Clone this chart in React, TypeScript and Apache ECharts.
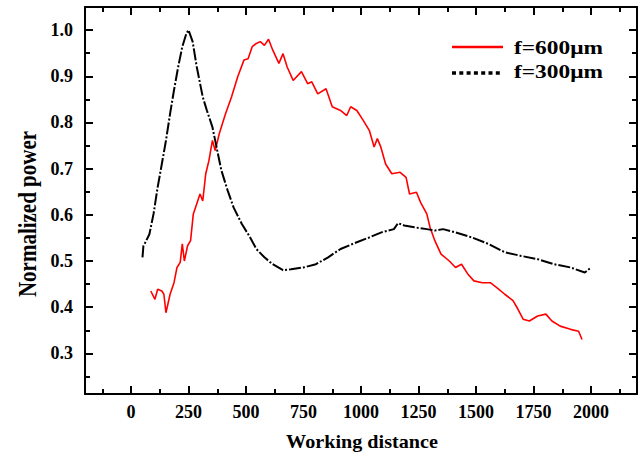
import React, { useEffect, useRef } from "react";
import * as echarts from "echarts";

const redX = [86, 104, 116, 134, 143, 152, 170, 187, 200, 214, 223, 232, 246, 259, 271, 286, 300, 312, 325, 339, 354, 366, 384, 411, 437, 464, 491, 509, 527, 545, 562, 580, 598, 616, 643, 661, 679, 705, 741, 768, 786, 812, 848, 875, 911, 938, 955, 982, 1009, 1036, 1057, 1071, 1086, 1107, 1134, 1170, 1196, 1211, 1241, 1259, 1286, 1300, 1321, 1348, 1384, 1411, 1437, 1464, 1491, 1527, 1562, 1589, 1625, 1661, 1682, 1705, 1732, 1768, 1804, 1830, 1866, 1911, 1946, 1961];
const redY = [0.435, 0.417, 0.439, 0.435, 0.428, 0.388, 0.428, 0.453, 0.486, 0.497, 0.537, 0.5, 0.533, 0.544, 0.602, 0.624, 0.645, 0.63, 0.689, 0.718, 0.761, 0.739, 0.776, 0.819, 0.855, 0.899, 0.935, 0.938, 0.964, 0.971, 0.975, 0.967, 0.98, 0.957, 0.928, 0.949, 0.92, 0.891, 0.91, 0.884, 0.888, 0.862, 0.873, 0.834, 0.826, 0.815, 0.834, 0.826, 0.805, 0.783, 0.747, 0.765, 0.747, 0.71, 0.689, 0.692, 0.681, 0.645, 0.649, 0.627, 0.602, 0.573, 0.544, 0.515, 0.5, 0.486, 0.493, 0.472, 0.457, 0.453, 0.453, 0.443, 0.428, 0.414, 0.396, 0.374, 0.37, 0.381, 0.385, 0.37, 0.359, 0.352, 0.348, 0.33];

const blackX = [50, 54, 62, 80, 98, 116, 134, 152, 170, 187, 205, 223, 241, 250, 268, 286, 312, 330, 354, 375, 393, 420, 446, 482, 518, 545, 580, 616, 661, 696, 750, 804, 857, 911, 964, 1036, 1089, 1143, 1161, 1188, 1232, 1286, 1321, 1357, 1411, 1482, 1554, 1625, 1696, 1768, 1839, 1911, 1973, 2000];
const blackY = [0.508, 0.533, 0.54, 0.558, 0.602, 0.66, 0.71, 0.761, 0.819, 0.87, 0.92, 0.964, 0.993, 1.0, 0.975, 0.92, 0.855, 0.826, 0.79, 0.739, 0.696, 0.653, 0.616, 0.58, 0.551, 0.526, 0.508, 0.493, 0.48, 0.482, 0.486, 0.493, 0.508, 0.526, 0.537, 0.551, 0.562, 0.569, 0.582, 0.577, 0.573, 0.569, 0.566, 0.569, 0.562, 0.551, 0.537, 0.519, 0.511, 0.504, 0.493, 0.486, 0.475, 0.486];

const xMajor = [0, 250, 500, 750, 1000, 1250, 1500, 1750, 2000];
const xMinor = [-125, 125, 375, 625, 875, 1125, 1375, 1625, 1875, 2125];
const yMajor = [0.3, 0.4, 0.5, 0.6, 0.7, 0.8, 0.9, 1.0];
const yMinor = [0.25, 0.35, 0.45, 0.55, 0.65, 0.75, 0.85, 0.95];

const seriesNames = ["f=600\u03bcm", "f=300\u03bcm"];
const axisTitles = ["Working distance", "Normalized power"];

const FONT = '"Liberation Serif", "Times New Roman", serif';

export default function App() {
  const ref = useRef<HTMLDivElement>(null);
  useEffect(() => {
    if (!ref.current) return;
    const chart = echarts.init(ref.current, null, { renderer: "svg" });
    const lineSt = { color: "#000", width: 2 };
    const labelSt = {
      color: "#000",
      fontFamily: FONT,
      fontWeight: "bold",
      fontSize: 18,
    };
    const mkX = (pos: string, major: boolean, labels: boolean, line: boolean) => ({
      type: "value",
      position: pos,
      min: -200,
      max: 2200,
      axisLine: { show: line, onZero: false, lineStyle: lineSt },
      axisTick: {
        show: true,
        inside: true,
        length: major ? 8 : 5,
        customValues: major ? xMajor : xMinor,
        lineStyle: { color: "#000", width: 2 },
      },
      axisLabel: {
        show: labels,
        customValues: xMajor,
        margin: 9,
        ...labelSt,
        formatter: (v: number) => String(v),
      },
      splitLine: { show: false },
    });
    const mkY = (pos: string, major: boolean, labels: boolean, line: boolean) => ({
      type: "value",
      position: pos,
      min: 0.212,
      max: 1.05,
      axisLine: { show: line, onZero: false, lineStyle: lineSt },
      axisTick: {
        show: true,
        inside: true,
        length: major ? 8 : 5,
        customValues: major ? yMajor : yMinor,
        lineStyle: { color: "#000", width: 2 },
      },
      axisLabel: {
        show: labels,
        customValues: yMajor,
        margin: 12,
        ...labelSt,
        formatter: (v: number) => v.toFixed(1),
      },
      splitLine: { show: false },
    });
    const txt = (text: string, size: number) => ({
      text,
      font: `bold ${size}px ${FONT}`,
      fill: "#000",
    });
    chart.setOption({
      animation: false,
      backgroundColor: "#fff",
      grid: { left: 85, top: 7, right: 7, bottom: 63, containLabel: false, outerBoundsMode: "none" },
      xAxis: [
        mkX("bottom", true, true, true),
        mkX("bottom", false, false, false),
        mkX("top", true, false, true),
        mkX("top", false, false, false),
      ],
      yAxis: [
        mkY("left", true, true, true),
        mkY("left", false, false, false),
        mkY("right", true, false, true),
        mkY("right", false, false, false),
      ],
      series: [
        {
          name: seriesNames[0],
          type: "line",
          xAxisIndex: 0,
          yAxisIndex: 0,
          showSymbol: false,
          symbol: "none",
          data: redX.map((x, i) => [x, redY[i]]),
          lineStyle: { color: "#ff0000", width: 1.6 },
        },
        {
          name: seriesNames[1],
          type: "line",
          xAxisIndex: 0,
          yAxisIndex: 0,
          showSymbol: false,
          symbol: "none",
          data: blackX.map((x, i) => [x, blackY[i]]),
          lineStyle: { color: "#000", width: 2, type: [12, 2, 2, 2] },
        },
      ],
      graphic: [
        {
          type: "line",
          shape: { x1: 452, y1: 47, x2: 503, y2: 47 },
          style: { stroke: "#ff0000", lineWidth: 2.5 },
        },
        {
          type: "line",
          shape: { x1: 452, y1: 73, x2: 503, y2: 73 },
          style: { stroke: "#000", lineWidth: 3.5, lineDash: [4, 3.3] },
        },
        {
          type: "text",
          x: 514,
          y: 48,
          scaleX: 1.3,
          style: { ...txt(seriesNames[0], 18), align: "left", verticalAlign: "middle" },
        },
        {
          type: "text",
          x: 514,
          y: 72,
          scaleX: 1.3,
          style: { ...txt(seriesNames[1], 18), align: "left", verticalAlign: "middle" },
        },
        {
          type: "text",
          x: 362,
          y: 442,
          scaleX: 1.12,
          style: { ...txt(axisTitles[0], 18), align: "center", verticalAlign: "middle" },
        },
        {
          type: "text",
          x: 27,
          y: 214,
          rotation: Math.PI / 2,
          scaleY: 1.2,
          style: { ...txt(axisTitles[1], 21), align: "center", verticalAlign: "middle" },
        },
      ],
    });
    return () => chart.dispose();
  }, []);
  return (
    <div
      ref={ref}
      style={{ position: "absolute", left: 0, top: 0, width: 644, height: 457 }}
    />
  );
}
